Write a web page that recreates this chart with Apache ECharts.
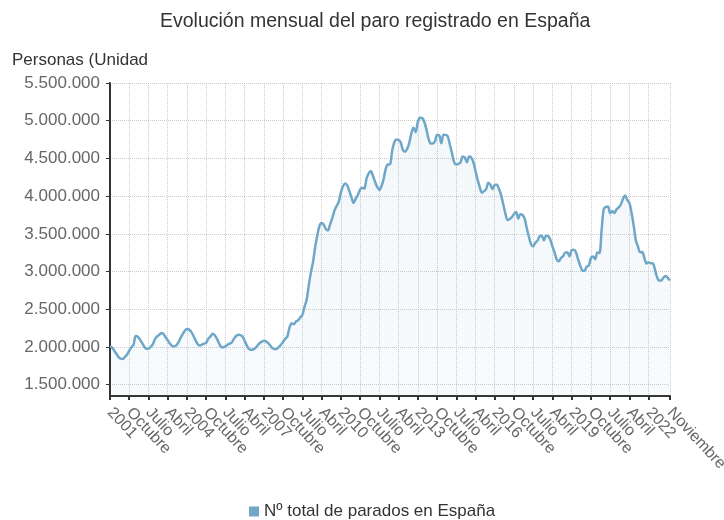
<!DOCTYPE html>
<html>
<head>
<meta charset="utf-8">
<script src="https://cdn.jsdelivr.net/npm/echarts@6/dist/echarts.min.js"></script>
<style>
  html, body { margin: 0; padding: 0; background: #fff; }
  #chart { width: 724px; height: 520px; }
</style>
</head>
<body>
<div id="chart"></div>
<script>
// Paro registrado mensual (personas), enero 2001 - noviembre 2022
const startYear = 2001;
const monthNames = ['Enero', 'Febrero', 'Marzo', 'Abril', 'Mayo', 'Junio', 'Julio',
  'Agosto', 'Septiembre', 'Octubre', 'Noviembre', 'Diciembre'];

const paro = [
  // 2001
  2007000, 1990000, 1950000, 1910000, 1865000, 1845000, 1840000, 1870000, 1900000, 1950000, 1995000, 2030000,
  // 2002
  2145000, 2135000, 2100000, 2055000, 2005000, 1975000, 1975000, 2000000, 2035000, 2100000, 2140000, 2160000,
  // 2003
  2185000, 2175000, 2130000, 2090000, 2045000, 2015000, 2005000, 2020000, 2060000, 2120000, 2170000, 2215000,
  // 2004
  2238000, 2230000, 2200000, 2150000, 2090000, 2040000, 2020000, 2030000, 2045000, 2055000, 2110000, 2140000,
  // 2005
  2175000, 2155000, 2110000, 2050000, 2000000, 1995000, 2010000, 2030000, 2045000, 2060000, 2110000, 2145000,
  // 2006
  2162000, 2158000, 2140000, 2080000, 2020000, 1975000, 1962000, 1970000, 1985000, 2020000, 2050000, 2070000,
  // 2007
  2083000, 2075000, 2050000, 2020000, 1985000, 1973000, 1975000, 2000000, 2030000, 2070000, 2110000, 2140000,
  // 2008
  2261000, 2315000, 2300000, 2338000, 2353000, 2390000, 2426000, 2530000, 2625000, 2818000, 2989000, 3129000,
  // 2009
  3327000, 3482000, 3605000, 3645000, 3620000, 3565000, 3545000, 3629000, 3709000, 3808000, 3869000, 3924000,
  // 2010
  4048000, 4130000, 4167000, 4142000, 4066000, 3982000, 3909000, 3970000, 4018000, 4086000, 4110000, 4100000,
  // 2011
  4231000, 4300000, 4334000, 4270000, 4190000, 4122000, 4080000, 4130000, 4226000, 4361000, 4420000, 4422000,
  // 2012
  4599000, 4712000, 4751000, 4744000, 4714000, 4615000, 4587000, 4625000, 4705000, 4834000, 4908000, 4849000,
  // 2013
  4981000, 5040000, 5035000, 4989000, 4890000, 4763000, 4698000, 4699000, 4724000, 4811000, 4808000, 4701000,
  // 2014
  4814000, 4812000, 4795000, 4684000, 4572000, 4450000, 4420000, 4428000, 4448000, 4527000, 4512000, 4448000,
  // 2015
  4525000, 4512000, 4451000, 4333000, 4215000, 4120000, 4046000, 4067000, 4094000, 4176000, 4149000, 4094000,
  // 2016
  4150000, 4152000, 4094000, 4011000, 3891000, 3767000, 3683000, 3697000, 3721000, 3764000, 3789000, 3702000,
  // 2017
  3760000, 3750000, 3702000, 3573000, 3461000, 3362000, 3336000, 3382000, 3410000, 3467000, 3475000, 3412000,
  // 2018
  3476000, 3470000, 3422000, 3335000, 3252000, 3162000, 3135000, 3182000, 3202000, 3254000, 3252000, 3202000,
  // 2019
  3285000, 3289000, 3255000, 3163000, 3079000, 3015000, 3011000, 3065000, 3080000, 3178000, 3198000, 3164000,
  // 2020
  3253000, 3246000, 3548000, 3831000, 3857000, 3862000, 3773000, 3802000, 3776000, 3826000, 3851000, 3889000,
  // 2021
  3964000, 4008000, 3949000, 3910000, 3781000, 3614000, 3416000, 3333000, 3257000, 3258000, 3183000, 3106000,
  // 2022
  3123000, 3111000, 3109000, 3022000, 2922000, 2880000, 2883000, 2924000, 2941000, 2914000, 2881000
];

// categorias mensuales 'AAAA-MM'
const meses = paro.map((v, i) => {
  const y = startYear + Math.floor(i / 12);
  const m = (i % 12) + 1;
  return y + '-' + (m < 10 ? '0' + m : m);
});

// una marca cada 9 meses, más el último mes
const lastIndex = paro.length - 1;
const showTick = (index) => (index % 9 === 0 && index < lastIndex - 1) || index === lastIndex;

// interval 0 + etiquetas vacías: así echarts no oculta la primera/última por solaparse
function mesLabel(value, index) {
  if (!showTick(index)) return '';
  const parts = value.split('-');
  const m = parseInt(parts[1], 10) - 1;
  return m === 0 ? parts[0] : monthNames[m];
}

const fmtMiles = (v) => String(Math.round(v)).replace(/\B(?=(\d{3})+(?!\d))/g, '.');

const chart = echarts.init(document.getElementById('chart'), null, { renderer: 'canvas' });

const font = 'Liberation Sans, Arial, sans-serif';

chart.setOption({
  backgroundColor: '#fff',
  animation: false,
  textStyle: { fontFamily: font },
  title: [
    {
      text: 'Evolución mensual del paro registrado en España',
      left: 160,
      top: 12,
      padding: 0,
      textStyle: { fontFamily: font, fontSize: 19.5, fontWeight: 'normal', color: '#333' }
    },
    {
      text: 'Personas (Unidades)',
      left: 12,
      top: 52,
      padding: 0,
      textStyle: {
        fontFamily: font, fontSize: 17, fontWeight: 'normal', color: '#333',
        width: 141, overflow: 'truncate', ellipsis: ''
      }
    }
  ],
  legend: {
    top: 498,
    left: 244,
    icon: 'rect',
    itemWidth: 10,
    itemHeight: 10,
    itemGap: 6,
    textStyle: { fontFamily: font, fontSize: 17, color: '#333' },
    data: ['Nº total de parados en España']
  },
  grid: { left: 110, right: 54, top: 83, bottom: 124, containLabel: false, outerBoundsMode: 'none' },
  xAxis: {
    type: 'category',
    data: meses,
    boundaryGap: false,
    axisLine: { lineStyle: { color: '#333', width: 2 } },
    axisTick: { interval: showTick, length: 4, lineStyle: { color: '#333', width: 2 } },
    axisLabel: {
      interval: 0,
      hideOverlap: false,
      rotate: -47,
      margin: 14,
      fontSize: 16,
      fontFamily: font,
      color: '#666',
      formatter: mesLabel
    },
    splitLine: { show: true, interval: showTick, lineStyle: { color: '#ccc', type: 'dotted' } }
  },
  yAxis: {
    type: 'value',
    min: 1350000,
    max: 5500000,
    splitNumber: 8,
    axisLine: { show: true, lineStyle: { color: '#333', width: 2 } },
    axisTick: { show: true, length: 4, lineStyle: { color: '#333' } },
    axisLabel: {
      showMinLabel: false,
      margin: 10,
      fontSize: 17,
      fontFamily: font,
      color: '#666',
      formatter: fmtMiles
    },
    splitLine: { lineStyle: { color: '#ccc', type: 'dotted' } }
  },
  series: [
    {
      name: 'Nº total de parados en España',
      type: 'line',
      data: paro,
      smooth: 0.3,
      showSymbol: false,
      color: '#6fa7c8',
      lineStyle: { color: '#6fa7c8', width: 2.5 },
      areaStyle: {
        color: new echarts.graphic.LinearGradient(0, 0, 0, 1, [
          { offset: 0, color: 'rgba(111,167,200,0.12)' },
          { offset: 1, color: 'rgba(111,167,200,0.07)' }
        ])
      }
    }
  ]
});
</script>
</body>
</html>
